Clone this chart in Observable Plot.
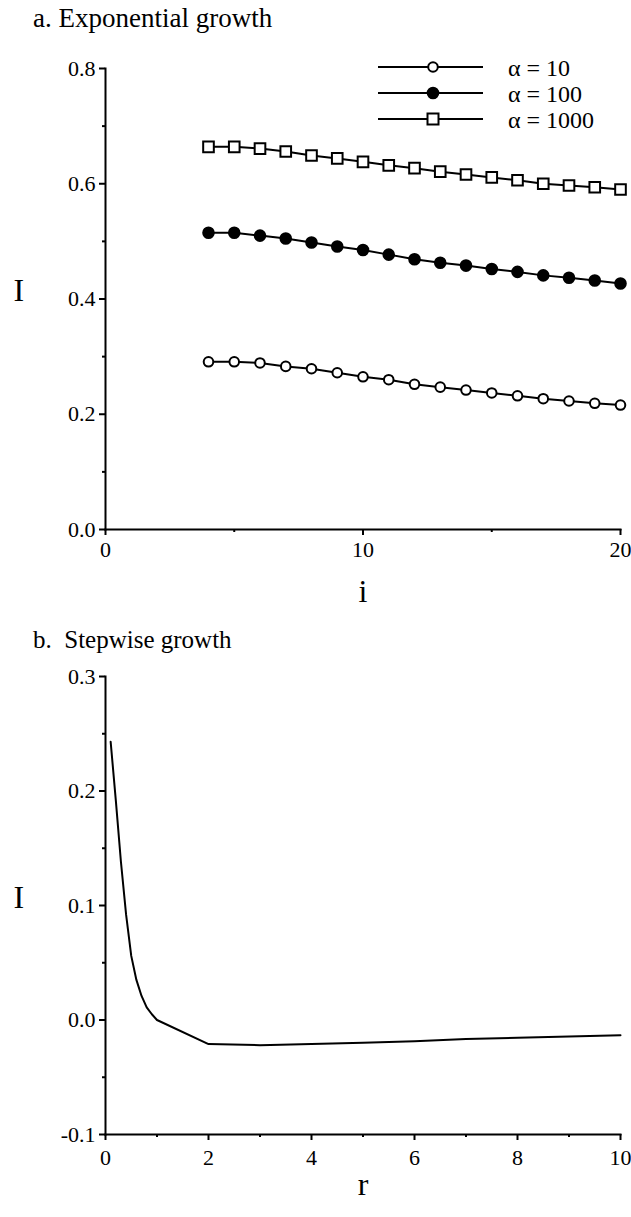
<!DOCTYPE html>
<html><head><meta charset="utf-8">
<script src="https://cdn.jsdelivr.net/npm/d3@7"></script>
<script src="https://cdn.jsdelivr.net/npm/@observablehq/plot@0.6"></script>
<style>
body{margin:0;background:#fff;font-family:"Liberation Serif","Times New Roman",serif;color:#000;}
#wrap{position:relative;width:631px;height:1217px;overflow:hidden;}
.title{position:absolute;white-space:pre;line-height:1;}
#p1{position:absolute;left:0;top:0;}
#p2{position:absolute;left:0;top:620px;}
#legend{position:absolute;left:370px;top:50px;}
svg{overflow:visible;}
</style></head><body>
<div id="wrap">
<div id="p1"></div>
<div id="p2"></div>
<div class="title" style="left:33px;top:5px;font-size:27px">a. Exponential growth</div>
<div class="title" style="left:33px;top:627px;font-size:25px">b.  Stepwise growth</div>
<div id="legend"></div>
</div>
<script>
// Panel a: exponential growth
const iValues = [4,5,6,7,8,9,10,11,12,13,14,15,16,17,18,19,20];
const alpha10   = [0.291,0.291,0.289,0.283,0.279,0.272,0.265,0.260,0.252,0.247,0.242,0.237,0.232,0.227,0.223,0.219,0.216];
const alpha100  = [0.515,0.515,0.510,0.505,0.498,0.491,0.485,0.477,0.469,0.463,0.458,0.452,0.447,0.441,0.437,0.432,0.427];
const alpha1000 = [0.664,0.664,0.661,0.656,0.649,0.644,0.638,0.632,0.627,0.621,0.616,0.611,0.606,0.600,0.597,0.594,0.590];
const seriesNames = ["α = 10","α = 100","α = 1000"];
const yTicksA = [0,0.2,0.4,0.6,0.8];
const yMinorA = [0.1,0.3,0.5,0.7];
const xTicksA = [0,10,20];
const xMinorA = [5,15];

// Panel b: stepwise growth
const rValues = [0.1,0.2,0.3,0.4,0.5,0.6,0.7,0.8,0.9,1,2,3,4,5,6,7,8,9,10];
const IStep   = [0.243,0.192,0.138,0.092,0.056,0.035,0.021,0.011,0.005,0.0,-0.021,-0.022,-0.021,-0.0198,-0.0185,-0.0167,-0.0155,-0.0144,-0.0133];
const yTicksB = [-0.1,0,0.1,0.2,0.3];
const yMinorB = [-0.05,0.05,0.15,0.25];
const xTicksB = [0,2,4,6,8,10];
const xMinorB = [1,3,5,7,9];

const FONT = "Liberation Serif, Times New Roman, serif";
const seriesA = [alpha10, alpha100, alpha1000];
const dataA = iValues.flatMap((i,k) => seriesA.map((s,j) => ({i, I: s[k], series: seriesNames[j]})));
const styleDot = {
  "α = 10":   {symbol:"circle", r:4.8, fill:"white"},
  "α = 100":  {symbol:"circle", r:5.3, fill:"black"},
  "α = 1000": {symbol:"square", r:6, fill:"white"}
};
const fmt1 = d => d.toFixed(1);

const axisCommon = {fontSize:22, strokeWidth:2, label:null};

const p1 = Plot.plot({
  width:631, height:620,
  marginLeft:105, marginRight:11, marginTop:68, marginBottom:91,
  style:{fontFamily:FONT, color:"black", background:"white", overflow:"visible"},
  x:{domain:[0,20]},
  y:{domain:[0,0.8]},
  marks:[
    Plot.axisY(yTicksA, {...axisCommon, tickSize:6, tickPadding:4, tickFormat:fmt1}),
    Plot.axisY(yMinorA, {...axisCommon, tickSize:3, tickFormat:()=>""}),
    Plot.axisX(xTicksA, {...axisCommon, tickSize:6, tickPadding:6, tickFormat:d=>String(d)}),
    Plot.axisX(xMinorA, {...axisCommon, tickSize:3, tickFormat:()=>""}),
    Plot.frame({anchor:"left", strokeWidth:2}),
    Plot.frame({anchor:"bottom", strokeWidth:2}),
    ...seriesNames.map(name => Plot.line(dataA.filter(d=>d.series===name), {x:"i", y:"I", stroke:"black", strokeWidth:2})),
    ...seriesNames.map(name => Plot.dot(dataA.filter(d=>d.series===name), {x:"i", y:"I", stroke:"black", strokeWidth:2, ...styleDot[name]})),
    Plot.text(["I"], {frameAnchor:"left", dx:-92, dy:-8, textAnchor:"start", fontSize:32, fontFamily:FONT}),
    Plot.text(["i"], {frameAnchor:"bottom", dy:72, fontSize:32, fontFamily:FONT})
  ]
});
document.getElementById("p1").appendChild(p1);

const dataB = rValues.map((r,k) => ({r, I: IStep[k]}));
const p2 = Plot.plot({
  width:631, height:597,
  marginLeft:105, marginRight:11, marginTop:56, marginBottom:83,
  style:{fontFamily:FONT, color:"black", background:"white", overflow:"visible"},
  x:{domain:[0,10]},
  y:{domain:[-0.1,0.3]},
  marks:[
    Plot.axisY(yTicksB, {...axisCommon, tickSize:6, tickPadding:4, tickFormat:fmt1}),
    Plot.axisY(yMinorB, {...axisCommon, tickSize:3, tickFormat:()=>""}),
    Plot.axisX(xTicksB, {...axisCommon, tickSize:6, tickPadding:9, tickFormat:d=>String(d)}),
    Plot.axisX(xMinorB, {...axisCommon, tickSize:3, tickFormat:()=>""}),
    Plot.frame({anchor:"left", strokeWidth:2}),
    Plot.frame({anchor:"bottom", strokeWidth:2}),
    Plot.line(dataB, {x:"r", y:"I", stroke:"black", strokeWidth:2, curve:"linear"}),
    Plot.text(["I"], {frameAnchor:"left", dx:-92, dy:-8, textAnchor:"start", fontSize:32, fontFamily:FONT}),
    Plot.text(["r"], {frameAnchor:"bottom", dy:60, fontSize:32, fontFamily:FONT})
  ]
});
document.getElementById("p2").appendChild(p2);

// Legend
const lg = d3.select("#legend").append("svg").attr("width",261).attr("height",95);
const rowY = [17, 43, 69];
seriesNames.forEach((name, j) => {
  const g = lg.append("g").attr("transform", `translate(0,${rowY[j]})`);
  g.append("line").attr("x1",8).attr("x2",113).attr("y1",0).attr("y2",0).attr("stroke","black").attr("stroke-width",2);
  const st = styleDot[name];
  if (st.symbol === "square") {
    const s = 11;
    g.append("rect").attr("x",63-s/2).attr("y",-s/2).attr("width",s).attr("height",s).attr("fill","white").attr("stroke","black").attr("stroke-width",2);
  } else {
    g.append("circle").attr("cx",63).attr("cy",0).attr("r",st.r).attr("fill",st.fill).attr("stroke","black").attr("stroke-width",2);
  }
  g.append("text").attr("x",138).attr("y",9).attr("font-size",24).attr("font-family",FONT).text(name);
});
</script>
</body></html>
